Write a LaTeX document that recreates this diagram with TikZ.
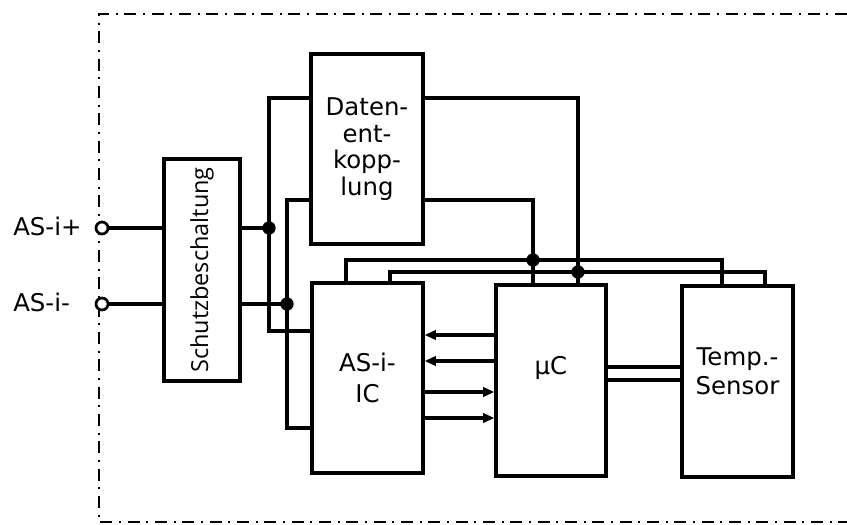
\documentclass[tikz,border=0pt]{standalone}
\usepackage{fontspec}
\setmainfont{DejaVu Sans}
\newfontfamily\schutzfont{Open Sans}
\usetikzlibrary{arrows.meta,positioning}

\begin{document}
\begin{tikzpicture}[
  x=0.75pt,y=-0.75pt,
  block/.style={draw,line width=2.4pt,inner sep=0pt,align=center,font=\fontsize{18.3}{21.75}\selectfont},
  wire/.style={line width=2.4pt},
  sig/.style={-{Triangle[length=8.5pt,width=7pt]},line width=2.4pt},
  frame/.style={line width=1.7pt,dash pattern=on 9pt off 5pt on 1.5pt off 5pt},
  term/.style={circle,draw,fill=white,line width=2pt,inner sep=0pt,minimum size=9pt},
  dot/.style={circle,fill,inner sep=0pt,minimum size=10pt},
  pin label/.style={anchor=west,inner sep=0pt,font=\fontsize{18.3}{21}\selectfont}
]
\useasboundingbox (0,0) rectangle (847,525);
\draw[frame] (847,14) -- (99,14) -- (99,522) -- (847,522);
\node[block,minimum width=57pt,minimum height=166.5pt] (sb) at (202,270) {\schutzfont\fontsize{17.6}{20}\selectfont\rotatebox{90}{Schutzbeschaltung}};
\node[block,minimum width=84pt,minimum height=142.5pt,font=\fontsize{18.3}{20}\selectfont] (dk) at (367,149) {Daten-\\ent-\\kopp-\\lung};
\node[block,minimum width=83.25pt,minimum height=142.5pt,font=\fontsize{18.3}{23.5}\selectfont] (ic) at (367.5,378) {AS-i-\\IC};
\node[block,minimum width=82.5pt,minimum height=143.25pt,text depth=22pt] (uc) at (551,380.5) {µC};
\node[block,minimum width=83.25pt,minimum height=143.25pt,text depth=15pt] (ts) at (737.5,381.5) {Temp.-\\Sensor};
\node[pin label] (lp) at (13,226) {AS-i+};
\node[pin label] (lm) at (13,302) {AS-i-};
\node[term] (tp) at (102,228) {};
\node[term] (tm) at (102,304) {};
\node[dot] (j1) at (269,228) {};
\node[dot] (j2) at (287,304) {};
\node[dot] (j3) at (533,260) {};
\node[dot] (j4) at (578,272) {};
\draw[wire] (tp) -- (tp -| sb.west) (tp -| sb.east) -- (j1.center);
\draw[wire] (tm) -- (tm -| sb.west) (tm -| sb.east) -- (j2.center);
\draw[wire] (dk.west |- 0,98) -| (j1.center) |- (ic.west |- 0,331);
\draw[wire] (dk.west |- 0,200) -| (j2.center) |- (ic.west |- 0,428);
\draw[wire] (dk.east |- 0,98) -| (uc.north -| j4.center);
\draw[wire] (dk.east |- 0,200) -| (uc.north -| j3.center);
\draw[wire] (ic.north -| 346,0) |- (j3.center) -| (ts.north -| 722,0);
\draw[wire] (ic.north -| 390,0) |- (j4.center) -| (ts.north -| 765,0);
\foreach \y in {335,361} \draw[sig] (uc.west |- 0,\y) -- (ic.east |- 0,\y);
\foreach \y in {392,418} \draw[sig] (ic.east |- 0,\y) -- (uc.west |- 0,\y);
\foreach \y in {367,380} \draw[wire] (uc.east |- 0,\y) -- (ts.west |- 0,\y);
\end{tikzpicture}
\end{document}
